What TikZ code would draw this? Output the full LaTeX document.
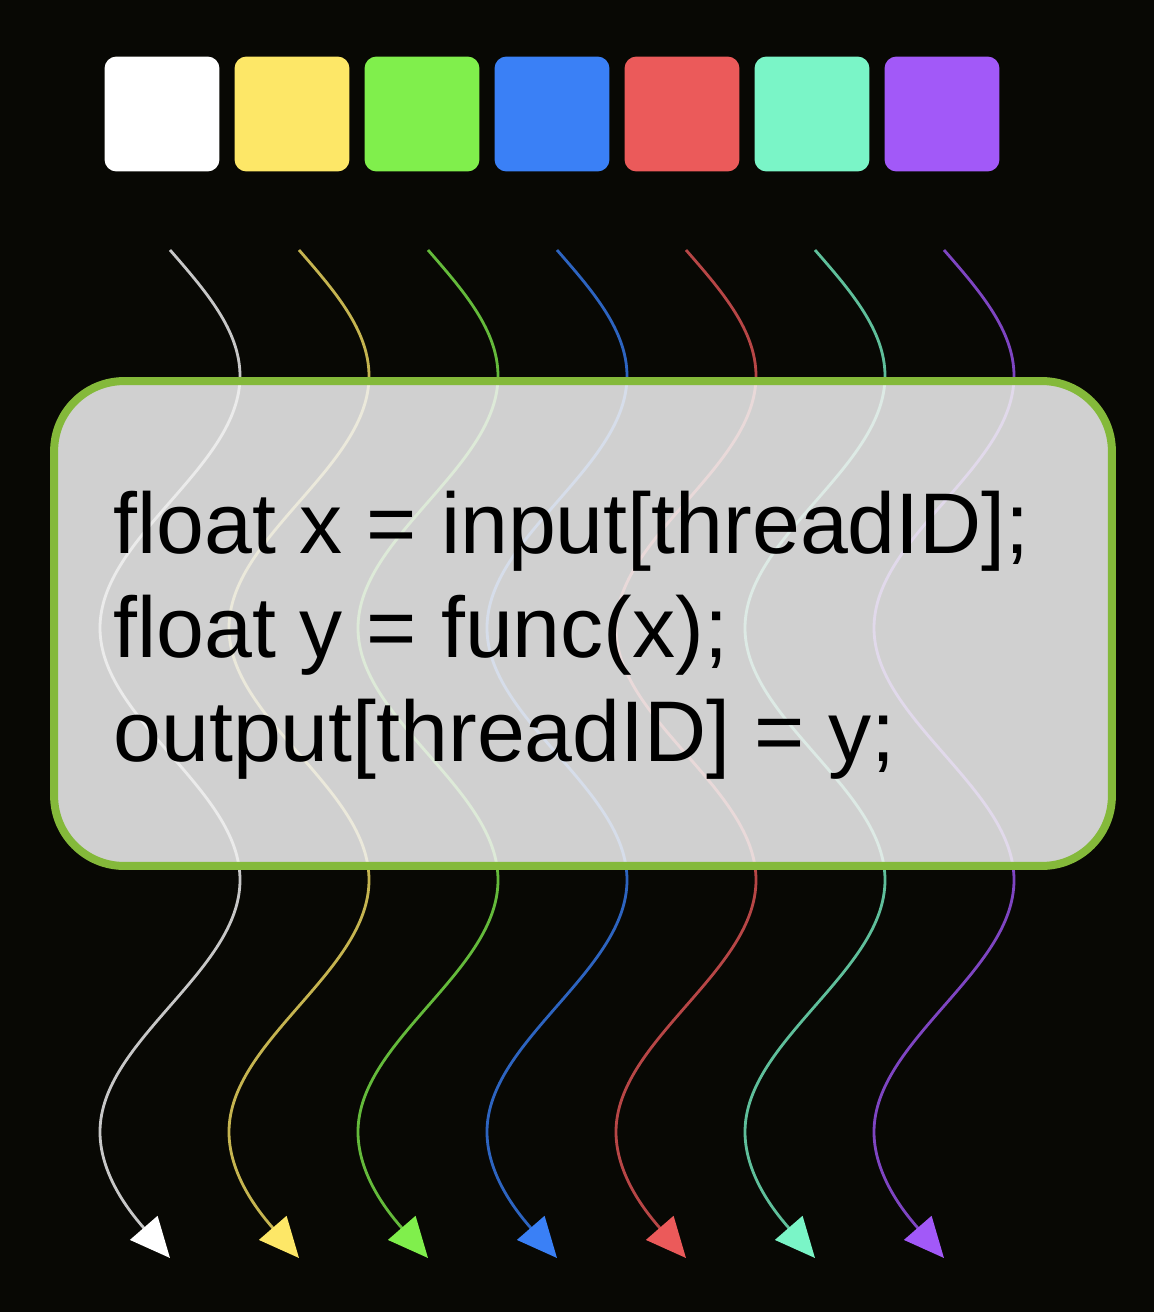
\documentclass[tikz,border=0pt]{standalone}
\usepackage{fontspec}
\setmainfont{Liberation Sans}
\usetikzlibrary{arrows.meta}

\definecolor{bgdark}{RGB}{8,8,4}
\definecolor{cwhite}{RGB}{255,255,255}
\definecolor{cyellow}{RGB}{253,231,103}
\definecolor{cgreen}{RGB}{128,239,76}
\definecolor{cblue}{RGB}{58,128,246}
\definecolor{cred}{RGB}{235,90,90}
\definecolor{cteal}{RGB}{122,245,199}
\definecolor{cpurple}{RGB}{162,89,248}
\definecolor{boxgray}{RGB}{242,242,242}
\definecolor{boxgreen}{RGB}{132,185,58}

\begin{document}
\begin{tikzpicture}[x=0.02cm, y=-0.02cm,
      tile/.style={rectangle, rounded corners=0.24cm, minimum size=2.3cm, inner sep=0pt},
      thread/.style={line width=1.6pt},
      codebox/.style={rectangle, rounded corners=1.4cm, draw=boxgreen, line width=0.16cm,
        fill=boxgray, fill opacity=0.86, draw opacity=1, minimum width=21.16cm, minimum height=9.7cm},
      codetext/.style={font=\fontsize{49}{59.2}\selectfont, align=left, inner sep=0pt, text=black},]
  %.
  \fill[bgdark] (0,0) rectangle (1154,1312);
  %.
  \foreach \c [count=\i] in {cwhite,cyellow,cgreen,cblue,cred,cteal,cpurple} {
    \node[tile, fill=\c] (sq\i) at ({162+130*(\i-1)},114) {};
    \coordinate (top\i) at ({170+129*(\i-1)},250);
    \coordinate (bot\i) at ({170+129*(\i-1)},1258);
    % quarter sine waves running downwards
    \draw[thread, \c!78!black, -{Triangle[length=0.8cm,width=0.72cm,color=\c]}]
      (top\i) .. controls +(35.8,41.1) and +(0,-45.6) .. ++(70,126)
      .. controls +(0,45.6) and +(35.8,-41.1) .. ++(-70,126)
      .. controls +(-35.8,41.1) and +(0,-45.6) .. ++(-70,126)
      .. controls +(0,45.6) and +(-35.8,-41.1) .. ++(70,126)
      .. controls +(35.8,41.1) and +(0,-45.6) .. ++(70,126)
      .. controls +(0,45.6) and +(35.8,-41.1) .. ++(-70,126)
      .. controls +(-35.8,41.1) and +(0,-45.6) .. ++(-70,126)
      .. controls +(0,45.6) and +(-35.8,-41.1) .. (bot\i);
  }
  %.
  \node[codebox] (box) at (583,623.5) {};
  \node[codetext, anchor=west] (code) at (113,635)
    {float x = input[threadID];\\ float y = func(x);\\ output[threadID] = y;};
  %.
\end{tikzpicture}
\end{document}
